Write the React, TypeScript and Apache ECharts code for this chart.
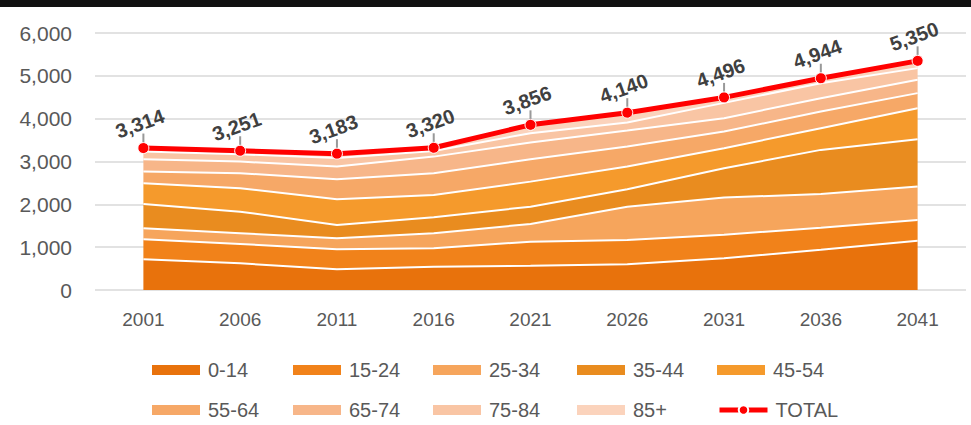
import React, { useEffect, useRef } from "react";
import * as echarts from "echarts";

const years = ["2001", "2006", "2011", "2016", "2021", "2026", "2031", "2036", "2041"];
const yTicks = [0, 1000, 2000, 3000, 4000, 5000, 6000];

const age0to14 = [717, 624, 484, 544, 568, 600, 741, 942, 1152];
const age15to24 = [468, 451, 467, 430, 561, 568, 551, 514, 484];
const age25to34 = [257, 250, 257, 351, 413, 778, 865, 787, 778];
const age35to44 = [567, 504, 311, 374, 404, 407, 686, 1028, 1107];
const age45to54 = [484, 547, 600, 521, 584, 528, 468, 507, 724];
const age55to64 = [271, 351, 467, 507, 524, 467, 388, 388, 351];
const age65to74 = [290, 271, 295, 387, 388, 374, 313, 313, 311];
const age75to84 = [180, 170, 200, 130, 219, 187, 357, 350, 273];
const age85plus = [80, 83, 102, 76, 195, 231, 127, 115, 170];
const total = [3314, 3251, 3183, 3320, 3856, 4140, 4496, 4944, 5350];

const bandNames = ["0-14", "15-24", "25-34", "35-44", "45-54", "55-64", "65-74", "75-84", "85+"];
const bandData = [age0to14, age15to24, age25to34, age35to44, age45to54, age55to64, age65to74, age75to84, age85plus];
const bandColors = ["#E8720C", "#F1821A", "#F6A55C", "#E98C1F", "#F59A2C", "#F6A867", "#F7B689", "#F9C5A4", "#FBD3BC"];

const FONT = "'Liberation Sans', Arial, sans-serif";
const fmt = (v: number) => Number(v).toLocaleString("en-US");

export default function App() {
  const ref = useRef<HTMLDivElement>(null);
  useEffect(() => {
    if (!ref.current) return;
    const chart = echarts.init(ref.current, undefined, { renderer: "svg" });

    const areaSeries = bandNames.map((name, i) => ({
      name,
      type: "line",
      stack: "pop",
      data: bandData[i],
      symbol: "none",
      showSymbol: false,
      z: 2,
      itemStyle: { color: bandColors[i] },
      lineStyle: { color: "#FFFFFF", width: 2 },
      areaStyle: { color: bandColors[i], opacity: 1 },
    }));

    const legendLefts = [152, 293, 433, 577, 717];
    const legendNames = [...bandNames, "TOTAL"];
    const legends = legendNames.map((name, i) => {
      const isTotal = name === "TOTAL";
      return {
        data: [isTotal ? { name } : { name, icon: "rect" }],
        left: legendLefts[i % 5],
        top: i < 5 ? 360 : 400,
        padding: 0,
        itemWidth: 48,
        itemHeight: isTotal ? 12 : 10,
        itemGap: 0,
        selectedMode: false,
        lineStyle: isTotal ? { width: 5 } : undefined,
        textStyle: { fontSize: 20, color: "#595959", fontFamily: FONT, padding: [0, 0, 0, 3] },
      };
    });

    chart.setOption({
      animation: false,
      backgroundColor: "#FFFFFF",
      textStyle: { fontFamily: FONT },
      graphic: [
        { type: "rect", shape: { x: 0, y: 0, width: 971, height: 7 }, style: { fill: "#111111" }, z: 100 },
      ],
      grid: { left: 95, right: 5, top: 33, bottom: 135, containLabel: false },
      legend: legends,
      xAxis: {
        type: "category",
        data: years,
        boundaryGap: true,
        axisLine: { show: false },
        axisTick: { show: false },
        axisLabel: { fontSize: 19, color: "#595959", margin: 20, fontFamily: FONT },
      },
      yAxis: {
        type: "value",
        min: yTicks[0],
        max: yTicks[yTicks.length - 1],
        interval: 1000,
        axisLine: { show: false },
        axisTick: { show: false },
        axisLabel: { fontSize: 21, color: "#595959", margin: 23, fontFamily: FONT, formatter: (v: number) => fmt(v) },
        splitLine: { lineStyle: { color: "#D9D9D9", width: 1.5 } },
      },
      series: [
        ...areaSeries,
        {
          name: "tick",
          type: "scatter",
          data: total,
          symbol: "rect",
          symbolSize: [2, 11],
          symbolOffset: [0, -9],
          itemStyle: { color: "#7F7F7F" },
          z: 3,
          silent: true,
        },
        {
          name: "TOTAL",
          type: "line",
          data: total,
          z: 4,
          symbol: "circle",
          symbolSize: 11,
          showSymbol: true,
          itemStyle: { color: "#FF0000", borderColor: "#FFFFFF", borderWidth: 1 },
          lineStyle: { color: "#FF0000", width: 5 },
          label: {
            show: true,
            position: "top",
            distance: 9,
            rotate: 20,
            fontSize: 20,
            fontWeight: "bold",
            color: "#404040",
            fontFamily: FONT,
            formatter: (p: any) => fmt(p.value),
          },
        },
      ],
    });
    return () => chart.dispose();
  }, []);
  return (
    <div
      ref={ref}
      style={{ position: "fixed", left: 0, top: 0, width: 971, height: 425, background: "#fff" }}
    />
  );
}
